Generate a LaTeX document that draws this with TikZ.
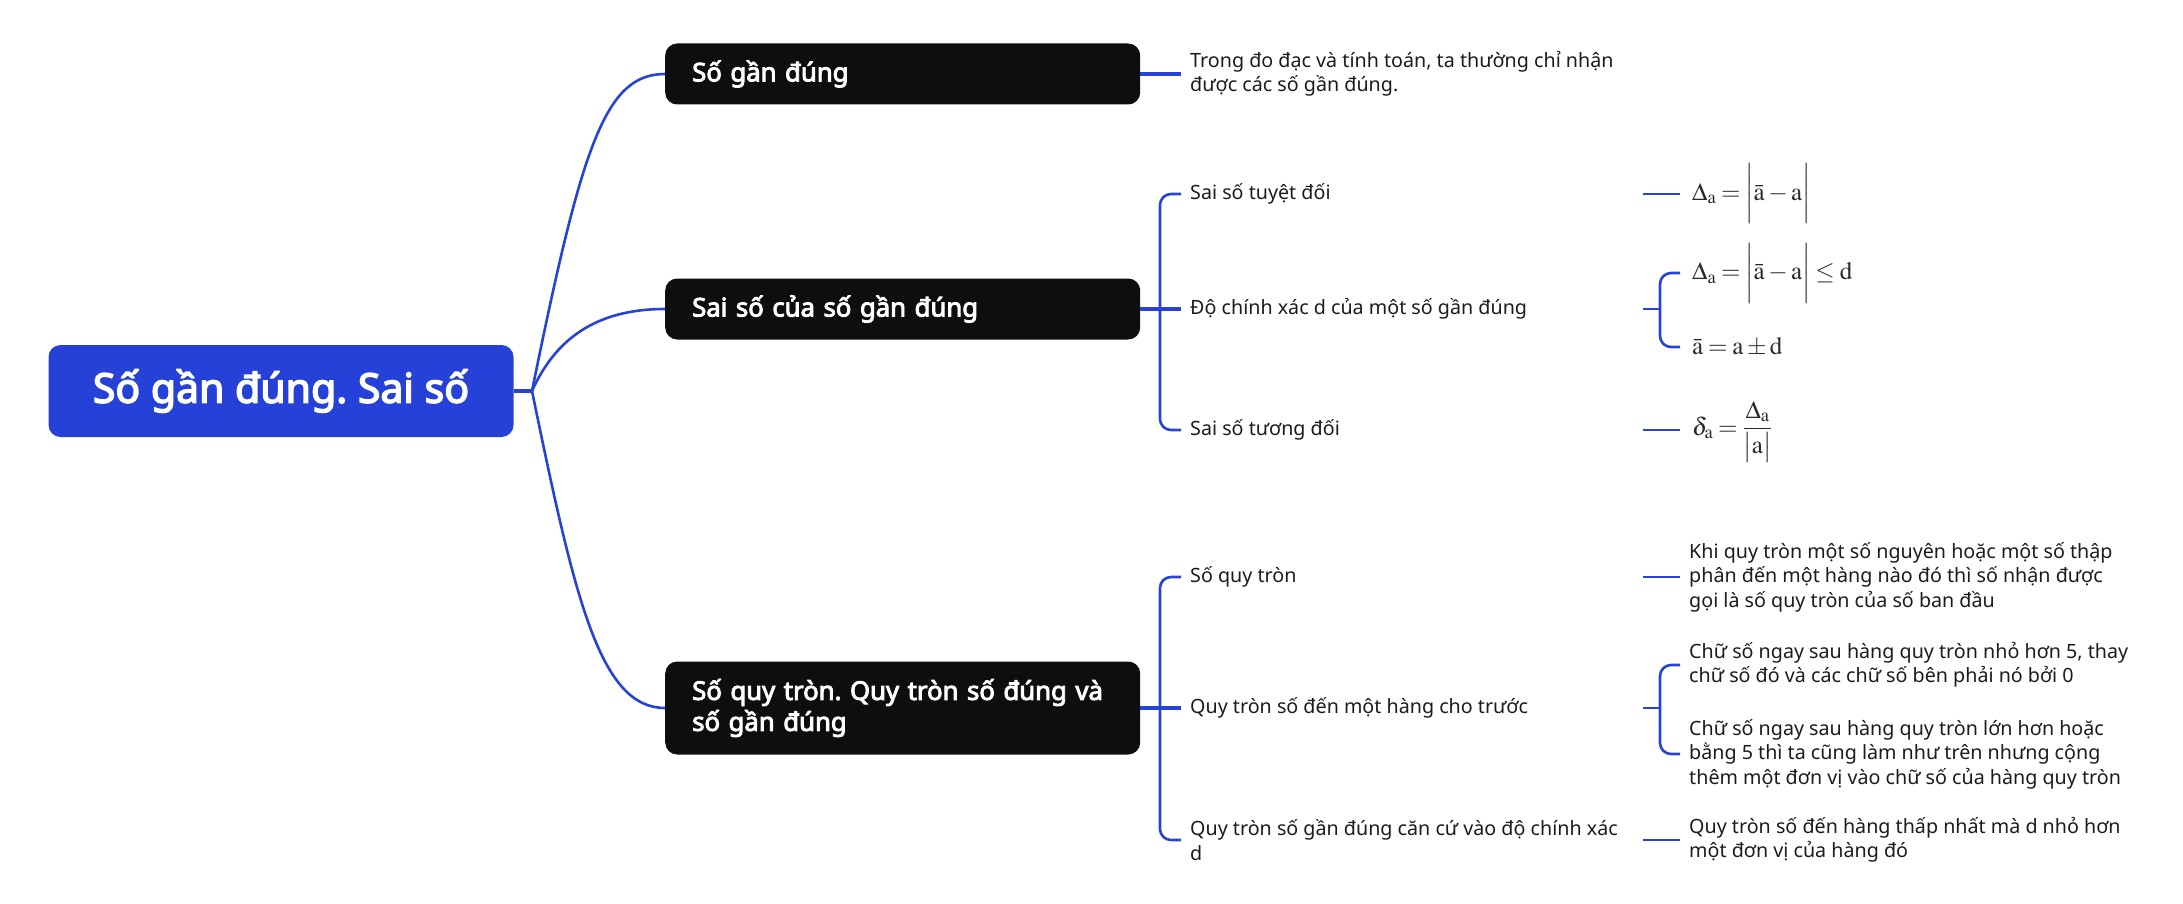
\documentclass[tikz,border=0pt]{standalone}
\usepackage{mathptmx}
\usepackage[no-math]{fontspec}
\setmainfont{Noto Sans}[BoldFont={Noto Sans},BoldFeatures={FakeBold=3.5}]
\usetikzlibrary{calc}
\definecolor{mblue}{HTML}{2541D8}
\definecolor{lblue}{HTML}{2743D6}
\definecolor{boxblack}{HTML}{0E0E0E}
\definecolor{txt}{HTML}{1C1C1C}
\definecolor{ftxt}{HTML}{2A2A2A}
\frenchspacing
\thickmuskip=3.5mu
\medmuskip=2.5mu
\begin{document}
\begin{tikzpicture}[x=1pt,y=-1pt,
 rootbox/.style={fill=mblue, rounded corners=12pt, minimum width=465pt, minimum height=92pt, text=white, font=\fontsize{41}{48}\selectfont\bfseries, inner sep=0pt},
 topicbox/.style={fill=boxblack, rounded corners=12pt, minimum width=475pt, text width=421pt, align=left, inner xsep=27pt, inner ysep=0pt, text=white, font=\fontsize{25.7}{31}\selectfont\bfseries, anchor=west},
 leaf/.style={anchor=west, inner xsep=9pt, inner ysep=2pt, align=left, text=txt, font=\fontsize{19.7}{24.5}\selectfont},
 formula/.style={anchor=west, inner xsep=12pt, inner ysep=2pt, text=ftxt, font=\fontsize{25}{30}\selectfont},
 link/.style={draw=lblue, line width=2.6pt},
 stub/.style={draw=lblue, line width=3.4pt},
 bracket/.style={draw=lblue, line width=2.6pt, rounded corners=11pt},
]
\useasboundingbox (0,0) rectangle (2183,904);

% root
\node[rootbox] (root) at (281,391) {Số gần đúng. Sai số};

% main topics
\node[topicbox, minimum height=61pt] (t1) at (665,74) {Số gần đúng};
\node[topicbox, minimum height=61pt] (t2) at (665,309) {Sai số của số gần đúng};
\node[topicbox, minimum height=93pt] (t3) at (665,708) {\mbox{Số quy tròn. Quy tròn số đúng và}\\số gần đúng};

% children
\node[leaf] (c1) at (1181,74) {Trong đo đạc và tính toán, ta thường chỉ nhận\\được các số gần đúng.};
\node[leaf] (c21) at (1181,194) {Sai số tuyệt đối};
\node[leaf] (c22) at (1181,309) {Độ chính xác d của một số gần đúng};
\node[leaf] (c23) at (1181,430) {Sai số tương đối};
\node[leaf] (c31) at (1181,577) {Số quy tròn};
\node[leaf] (c32) at (1181,708) {Quy tròn số đến một hàng cho trước};
\node[leaf] (c33) at (1181,840) {Quy tròn số gần đúng căn cứ vào độ chính xác\\d};

% grandchildren
\node[formula] (f1) at (1680,194) {$\Delta_{\mathrm a} = \biggl|\bar{\mathrm a} - \mathrm a\biggr|$};
\node[formula] (f2a) at (1680,273) {$\Delta_{\mathrm a} = \biggl|\bar{\mathrm a} - \mathrm a\biggr| \le \mathrm d$};
\node[formula] (f2b) at (1680,347) {$\bar{\mathrm a} = \mathrm a \pm \mathrm d$};
\node[formula, anchor=base west] (f3) at (1680,435) {$\displaystyle \delta_{\mathrm a} = \frac{\Delta_{\mathrm a}}{\bigl|\mathrm a\bigr|}$};
\node[leaf] (g31) at (1680,577) {Khi quy tròn một số nguyên hoặc một số thập\\phân đến một hàng nào đó thì số nhận được\\gọi là số quy tròn của số ban đầu};
\node[leaf] (g32a) at (1680,665) {Chữ số ngay sau hàng quy tròn nhỏ hơn 5, thay\\chữ số đó và các chữ số bên phải nó bởi 0};
\node[leaf] (g32b) at (1680,754) {Chữ số ngay sau hàng quy tròn lớn hơn hoặc\\bằng 5 thì ta cũng làm như trên nhưng cộng\\thêm một đơn vị vào chữ số của hàng quy tròn};
\node[leaf] (g33) at (1680,840) {Quy tròn số đến hàng thấp nhất mà d nhỏ hơn\\một đơn vị của hàng đó};

% junctions
\coordinate (rootout) at (532,391);
\coordinate (j2) at (1160,309);
\coordinate (j3) at (1160,708);
\coordinate (j22) at (1660,309);
\coordinate (j32) at (1660,708);

% root connectors
\draw[stub] (root.east) -- (rootout);
\draw[link] (rootout) .. controls (582,145) and (605,74) .. (t1.west);
\draw[link] (rootout) .. controls (555,340) and (595,309) .. (t2.west);
\draw[link] (rootout) .. controls (575,600) and (600,708) .. (t3.west);

% topic connectors
\draw[stub] (t1.east) -- (c1.west);
\draw[stub] (t2.east) -- (c22.west);
\draw[bracket] (c21.west) -| (j2) |- (c23.west);
\draw[stub] (t3.east) -- (c32.west);
\draw[bracket] (c31.west) -| (j3) |- (c33.west);

% child connectors
\draw[link] ($(c21.west)+(462,0)$) -- (f1.west);
\draw[link] ($(c22.west)+(462,0)$) -- (j22);
\draw[bracket] (f2a.west) -| (j22) |- (f2b.west);
\draw[link] ($(c23.west)+(462,0)$) -- (c23.west -| f3.west);
\draw[link] ($(c31.west)+(462,0)$) -- (g31.west);
\draw[link] ($(c32.west)+(462,0)$) -- (j32);
\draw[bracket] (g32a.west) -| (j32) |- (g32b.west);
\draw[link] ($(c33.west)+(462,0)$) -- (g33.west);
\end{tikzpicture}
\end{document}
